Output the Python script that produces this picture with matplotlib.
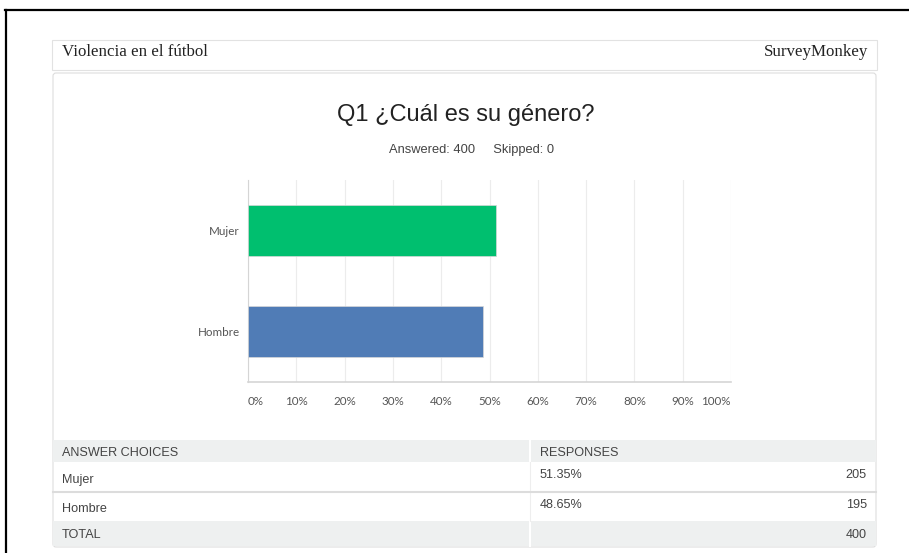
import matplotlib
matplotlib.use('Agg')
import matplotlib.pyplot as plt
from matplotlib.patches import Rectangle, FancyBboxPatch

# data
survey_name = 'Violencia en el fútbol'
question = 'Q1 ¿Cuál es su género?'
answered = 400
skipped = 0
choices = ['Mujer', 'Hombre']
percents = [51.35, 48.65]
counts = [205, 195]
total = 400
bar_colors = ['#00BF6F', '#507CB6']
tick_values = [0, 10, 20, 30, 40, 50, 60, 70, 80, 90, 100]
tick_labels = ['0%', '10%', '20%', '30%', '40%', '50%', '60%', '70%', '80%', '90%', '100%']

W, H = 909, 553
fig = plt.figure(figsize=(W / 100, H / 100), dpi=100)

# page background, pixel coordinates
bg = fig.add_axes([0, 0, 1, 1])
bg.set_xlim(0, W)
bg.set_ylim(H, 0)
bg.axis('off')

# black frame of the screenshot
bg.plot([5, W], [10, 10], color='black', lw=1.6)
bg.plot([6, 6], [10, H], color='black', lw=1.6)

# header box
bg.add_patch(Rectangle((52, 40), 825, 30, fill=False, ec='#e2e2e2', lw=0.8))
bg.text(62, 52.5, survey_name, family='Liberation Serif', fontsize=12.2, color='#222', va='center', ha='left')
bg.text(868, 52.5, 'SurveyMonkey', family='Liberation Serif', fontsize=12.2, color='#222', va='center', ha='right')

# main panel
bg.add_patch(FancyBboxPatch((53, 73), 823, 474, boxstyle='round,pad=0,rounding_size=3',
                            fill=False, ec='#dddddd', lw=0.8))

bg.text(466, 115.5, question, family='Liberation Sans', fontsize=17, color='#222', ha='center', va='center')
bg.text(472, 150.5, 'Answered: %d     Skipped: %d' % (answered, skipped), family='Liberation Sans',
        fontsize=9.3, color='#444', ha='center', va='center')

# table
tfont = dict(family='Liberation Sans', fontsize=9.1, color='#444')
bg.add_patch(Rectangle((53, 440), 823, 22, fc='#eef0f0', ec='none'))
bg.add_patch(Rectangle((53, 521), 823, 25, fc='#eef0f0', ec='none'))
bg.plot([530, 530], [440, 462], color='white', lw=1.5)
bg.plot([530, 530], [521, 546], color='white', lw=1.5)
bg.plot([530, 530], [462, 521], color='#eeeeee', lw=0.8)
bg.plot([53, 876], [491.5, 491.5], color='#dcdcdc', lw=1.5)
bg.text(62, 452.5, 'ANSWER CHOICES', va='center', **tfont)
bg.text(540, 452.5, 'RESPONSES', va='center', **tfont)
row_y = [479.5, 509.5]
for i in range(len(choices)):
    bg.text(62, row_y[i], choices[i], va='center', **tfont)
    bg.text(540, row_y[i] - 4, '%.2f%%' % percents[i], va='center', **tfont)
    bg.text(867, row_y[i] - 4, str(counts[i]), va='center', ha='right', **tfont)
bg.text(62, 534.5, 'TOTAL', va='center', **tfont)
bg.text(867, 534.5, str(total), va='center', ha='right', **tfont)

# bar chart
ax = fig.add_axes([248 / W, 1 - 382 / H, (731 - 248) / W, (382 - 180) / H])
ypos = list(range(len(choices)))[::-1]
ax.barh(ypos, percents, height=0.5, color=bar_colors, edgecolor='#d8d8d8', linewidth=0.5, zorder=3)
ax.set_xlim(0, 100)
ax.set_ylim(-0.5, 1.5)
ax.set_xticks(tick_values)
ax.set_xticklabels(tick_labels)
for i, lab in enumerate(ax.get_xticklabels()):
    if i == 0:
        lab.set_ha('left')
    elif i == len(tick_values) - 1:
        lab.set_ha('right')
ax.set_yticks(ypos)
ax.set_yticklabels(choices)
ax.tick_params(axis='both', length=0, labelsize=8.4, labelcolor='#555')
ax.tick_params(axis='x', pad=10)
ax.tick_params(axis='y', pad=6)
for lab in ax.get_xticklabels() + ax.get_yticklabels():
    lab.set_family('Lato')
ax.grid(axis='x', color='#ececec', lw=0.8, zorder=0)
ax.set_facecolor('none')
for s in ['top', 'right']:
    ax.spines[s].set_visible(False)
ax.spines['left'].set_color('#d5d5d5')
ax.spines['bottom'].set_color('#d5d5d5')
ax.spines['bottom'].set_linewidth(1.2)

fig.savefig('out.png', dpi=100)
